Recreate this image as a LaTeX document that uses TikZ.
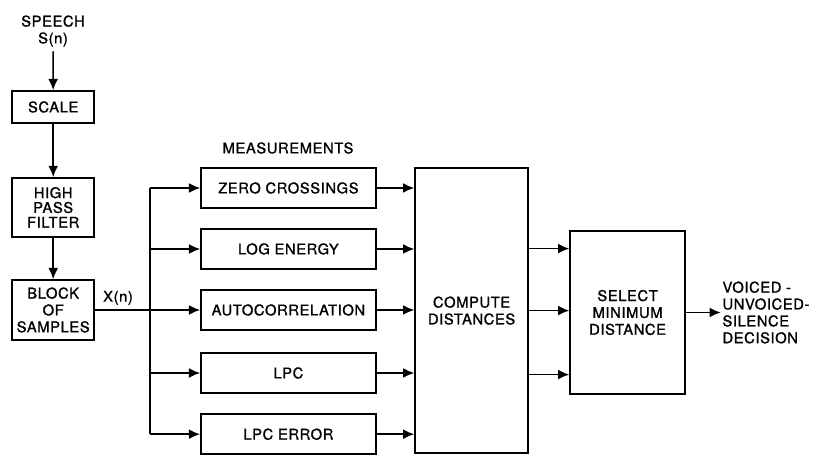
\documentclass[tikz,border=0pt]{standalone}
\usepackage{fontspec}
\setmainfont[LetterSpace=4, FakeBold=1.2]{TeX Gyre Heros}
\usepackage{tikz}
\usetikzlibrary{arrows.meta, positioning, calc}
\newcommand{\boxfont}{\fontsize{10.5pt}{12pt}\selectfont}

\begin{document}
\begin{tikzpicture}[
  block/.style={rectangle, draw, line width=1.1pt, align=center, font=\boxfont, inner sep=2pt},
  meas/.style={block, minimum width=4.375cm, minimum height=1cm},
  arrow/.style={-{Latex[length=8pt,width=7pt]}, line width=1.1pt},
  line/.style={line width=1.1pt}
]
\useasboundingbox (0,-0.03) rectangle (20.4,11.375);

% input chain
\node[align=center, font=\boxfont] (speech) at (1.325,10.6) {SPEECH\\S(n)};
\node[block, minimum width=2.05cm, minimum height=0.8cm] (scale) at (1.33,8.7) {SCALE};
\node[block, minimum width=2.05cm, minimum height=1.475cm, font=\fontsize{10.5pt}{10.5pt}\selectfont] (hpf) at (1.33,6.19) {HIGH\\PASS\\FILTER};
\node[block, minimum width=2.05cm, minimum height=1.5cm] (blk) at (1.33,3.625) {BLOCK\\OF\\SAMPLES};
\node[font=\boxfont] (xn) at (2.95,3.93) {X(n)};

% measurements
\node[font=\boxfont] (mlabel) at (7.2,7.675) {MEASUREMENTS};
\node[meas] (zero) at (7.21,6.675) {ZERO CROSSINGS};
\node[meas] (loge) at (7.21,5.15) {LOG ENERGY};
\node[meas] (auto) at (7.21,3.625) {AUTOCORRELATION};
\node[meas] (lpc) at (7.21,2.05) {LPC};
\node[meas] (err) at (7.21,0.52) {LPC ERROR};

% distances and decision
\node[block, minimum width=2.825cm, minimum height=7.13cm] (comp) at (11.79,3.61) {COMPUTE\\DISTANCES};
\node[block, minimum width=2.875cm, minimum height=4.075cm] (sel) at (15.69,3.5625) {SELECT\\MINIMUM\\DISTANCE};
\node[align=left, anchor=west, inner sep=1pt, font=\boxfont] (dec) at (18.02,3.5625) {VOICED -\\UNVOICED-\\SILENCE\\DECISION};

\coordinate (bus) at (3.75,0);

\draw[arrow] (speech) -- (scale);
\draw[arrow] (scale) -- (hpf);
\draw[arrow] (hpf) -- (blk);
\draw[arrow] (blk) -- (auto);
\draw[line] (bus |- zero) -- (bus |- err);
\draw[arrow] (bus |- zero) -- (zero);
\draw[arrow] (bus |- loge) -- (loge);
\draw[arrow] (bus |- lpc) -- (lpc);
\draw[arrow] (bus |- err) -- (err);

\draw[arrow] (zero) -- (zero -| comp.west);
\draw[arrow] (loge) -- (loge -| comp.west);
\draw[arrow] (auto) -- (auto -| comp.west);
\draw[arrow] (lpc) -- (lpc -| comp.west);
\draw[arrow] (err) -- (err -| comp.west);

\draw[arrow] ([yshift=1.55cm]comp.east) -- ([yshift=1.55cm]comp.east -| sel.west);
\draw[arrow] (comp.east) -- (comp.east -| sel.west);
\draw[arrow] ([yshift=-1.6cm]comp.east) -- ([yshift=-1.6cm]comp.east -| sel.west);
\draw[arrow] (sel) -- (dec);
\end{tikzpicture}
\end{document}
